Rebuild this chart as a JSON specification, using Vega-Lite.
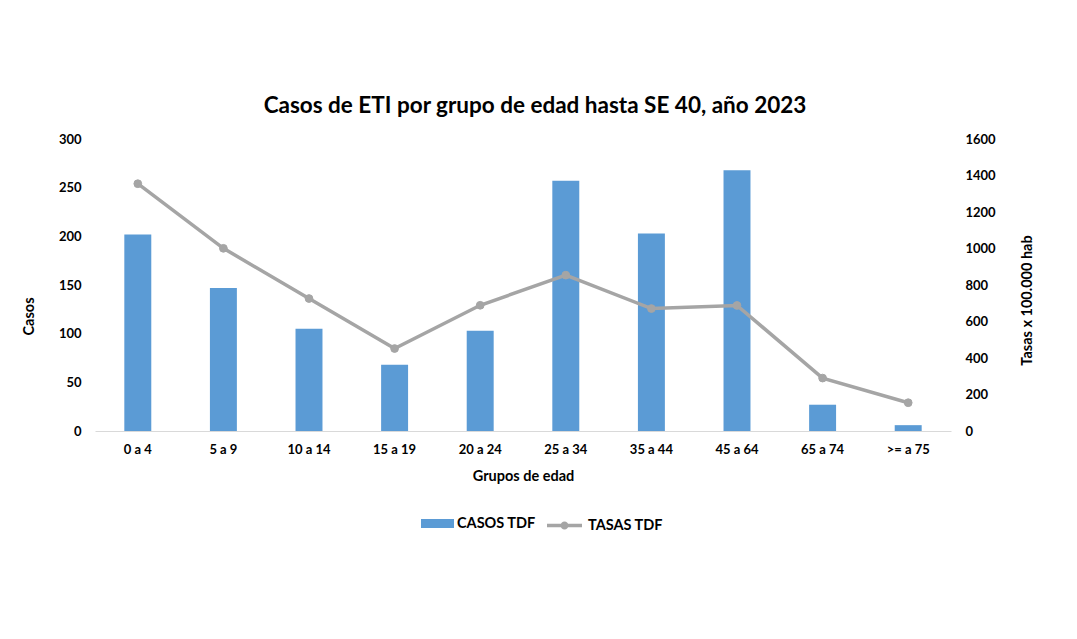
{
  "$schema": "https://vega.github.io/schema/vega-lite/v6.json",
  "autosize": {"type": "none"},
  "width": 856,
  "height": 292,
  "padding": {"left": 95, "top": 139, "right": 126, "bottom": 208},
  "background": "white",
  "config": {
    "view": {"stroke": null},
    "font": "Lato",
    "axis": {"labelFont": "Lato", "labelFontWeight": "bold", "labelFontSize": 13, "labelColor": "#000", "titleFont": "Lato", "titleFontWeight": "bold", "titleFontSize": 14.5, "titleColor": "#000", "grid": false, "ticks": false},
    "legend": {"labelFont": "Lato", "labelFontWeight": "bold", "labelFontSize": 14.5, "labelColor": "#000"}
  },
  "title": {"text": "Casos de ETI por grupo de edad hasta SE 40, año 2023", "font": "Lato", "fontSize": 22.5, "fontWeight": "bold", "color": "#000", "anchor": "middle", "offset": 16, "dx": 12},
  "data": {"values": [
    {"grupo": "0 a 4", "casos": 202, "tasas": 1355},
    {"grupo": "5 a 9", "casos": 147, "tasas": 1001},
    {"grupo": "10 a 14", "casos": 105, "tasas": 726},
    {"grupo": "15 a 19", "casos": 68, "tasas": 452},
    {"grupo": "20 a 24", "casos": 103, "tasas": 689},
    {"grupo": "25 a 34", "casos": 257, "tasas": 854},
    {"grupo": "35 a 44", "casos": 203, "tasas": 671},
    {"grupo": "45 a 64", "casos": 268, "tasas": 688},
    {"grupo": "65 a 74", "casos": 27, "tasas": 290},
    {"grupo": ">= a 75", "casos": 6, "tasas": 155}
  ]},
  "encoding": {
    "x": {"field": "grupo", "type": "nominal", "sort": null,
      "scale": {"paddingInner": 0.685, "paddingOuter": 0.3425},
      "axis": {"title": "Grupos de edad", "labelAngle": 0, "labelPadding": 12, "titlePadding": 13, "domainColor": "#d9d9d9", "domainWidth": 1}}
  },
  "layer": [
    {
      "mark": {"type": "bar"},
      "encoding": {
        "y": {"field": "casos", "type": "quantitative", "scale": {"domain": [0, 300]},
          "axis": {"title": "Casos", "orient": "left", "values": [0, 50, 100, 150, 200, 250, 300], "domain": false, "labelPadding": 14, "titlePadding": 22, "titleY": 177}},
        "fill": {"datum": "CASOS TDF", "type": "nominal", "scale": {"range": ["#5b9bd5"]},
          "legend": {"title": null, "orient": "none", "legendX": 326, "legendY": 368, "padding": 0, "symbolType": "M-1,-0.27H1V0.27H-1Z", "symbolSize": 1089, "symbolStrokeWidth": 0, "labelOffset": 3}}
      }
    },
    {
      "encoding": {
        "y": {"field": "tasas", "type": "quantitative", "scale": {"domain": [0, 1600]},
          "axis": {"title": "Tasas x 100.000 hab", "orient": "right", "format": "d", "values": [0, 200, 400, 600, 800, 1000, 1200, 1400, 1600], "domain": false, "labelPadding": 14, "titlePadding": 39, "titleAngle": 270, "titleY": 161}},
        "stroke": {"datum": "TASAS TDF", "type": "nominal", "scale": {"range": ["#a5a5a5"]},
          "legend": {"title": null, "orient": "none", "legendX": 450, "legendY": 367, "padding": 0, "symbolType": "M-1,0H1M0.13,0A0.13,0.13,0,1,1,-0.13,0A0.13,0.13,0,1,1,0.13,0Z", "symbolSize": 1225, "symbolStrokeWidth": 3.5, "symbolFillColor": "#a5a5a5", "labelOffset": 4}}
      },
      "layer": [
        {"mark": {"type": "line", "strokeWidth": 3.5}},
        {"mark": {"type": "point", "filled": true, "fill": "#a5a5a5", "size": 60, "opacity": 1, "strokeWidth": 1}}
      ]
    }
  ],
  "resolve": {"scale": {"y": "independent"}}
}
